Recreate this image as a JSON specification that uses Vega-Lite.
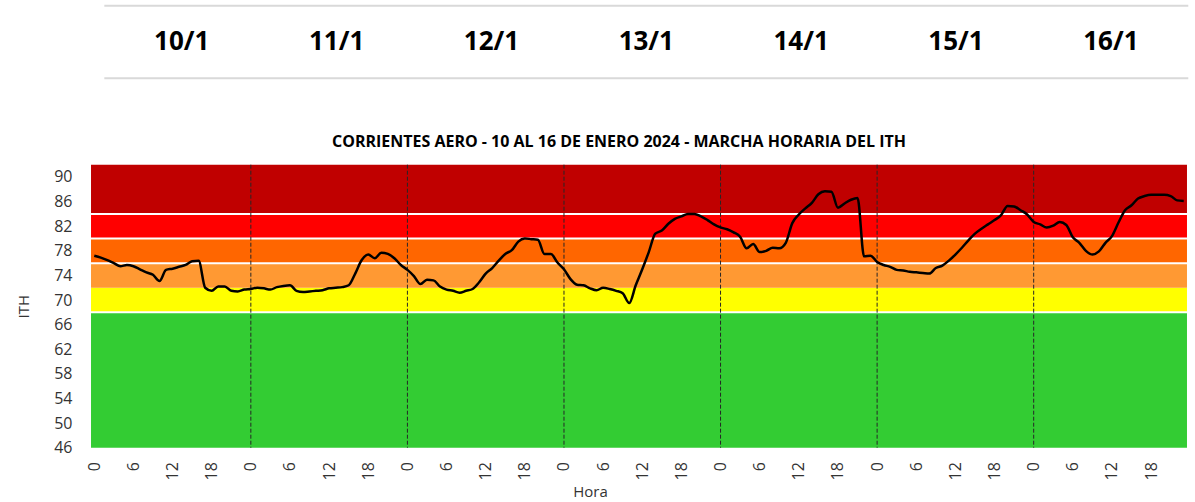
{
  "$schema": "https://vega.github.io/schema/vega-lite/v6.json",
  "background": "white",
  "padding": {"left": 16, "top": 4.7, "right": 0, "bottom": 0},
  "bounds": "flush",
  "spacing": 86,
  "config": {"view": {"stroke": null}, "font": "Open Sans", "axis": {"labelOverlap": false, "labelFlush": false}, "axisY": {"labelOverlap": false}},
  "datasets": {
    "headerLines": [{"pos": "top"}, {"pos": "bottom"}],
    "dates": [{"date": "10/1"}, {"date": "11/1"}, {"date": "12/1"}, {"date": "13/1"}, {"date": "14/1"}, {"date": "15/1"}, {"date": "16/1"}],
    "bands": [
      {"band": "verde", "lo": 46, "hi": 68},
      {"band": "amarillo", "lo": 68, "hi": 72},
      {"band": "naranja claro", "lo": 72, "hi": 76},
      {"band": "naranja", "lo": 76, "hi": 80},
      {"band": "rojo", "lo": 80, "hi": 84},
      {"band": "rojo oscuro", "lo": 84, "hi": 92}
    ],
    "whiteLines": [{"b": 68}, {"b": 76}, {"b": 80}, {"b": 84}],
    "days": [{"d": 24}, {"d": 48}, {"d": 72}, {"d": 96}, {"d": 120}, {"d": 144}],
    "ith": [
      {"h": 0, "ith": 77.2}, {"h": 1, "ith": 76.9}, {"h": 2, "ith": 76.5}, {"h": 3, "ith": 76.0}, {"h": 4, "ith": 75.5}, {"h": 5, "ith": 75.7}, {"h": 6, "ith": 75.5}, {"h": 7, "ith": 75.0}, {"h": 8, "ith": 74.5}, {"h": 9, "ith": 74.1}, {"h": 10, "ith": 73.1}, {"h": 11, "ith": 74.9}, {"h": 12, "ith": 75.1}, {"h": 13, "ith": 75.4}, {"h": 14, "ith": 75.7}, {"h": 15, "ith": 76.3}, {"h": 16, "ith": 76.4}, {"h": 17, "ith": 72.0}, {"h": 18, "ith": 71.5}, {"h": 19, "ith": 72.2}, {"h": 20, "ith": 72.2}, {"h": 21, "ith": 71.5}, {"h": 22, "ith": 71.4}, {"h": 23, "ith": 71.7},
      {"h": 24, "ith": 71.8}, {"h": 25, "ith": 72.0}, {"h": 26, "ith": 71.9}, {"h": 27, "ith": 71.7}, {"h": 28, "ith": 72.1}, {"h": 29, "ith": 72.3}, {"h": 30, "ith": 72.4}, {"h": 31, "ith": 71.5}, {"h": 32, "ith": 71.3}, {"h": 33, "ith": 71.4}, {"h": 34, "ith": 71.5}, {"h": 35, "ith": 71.6}, {"h": 36, "ith": 71.9}, {"h": 37, "ith": 72.0}, {"h": 38, "ith": 72.1}, {"h": 39, "ith": 72.4}, {"h": 40, "ith": 74.3}, {"h": 41, "ith": 76.5}, {"h": 42, "ith": 77.4}, {"h": 43, "ith": 76.8}, {"h": 44, "ith": 77.7}, {"h": 45, "ith": 77.5}, {"h": 46, "ith": 76.8}, {"h": 47, "ith": 75.7},
      {"h": 48, "ith": 74.9}, {"h": 49, "ith": 73.9}, {"h": 50, "ith": 72.6}, {"h": 51, "ith": 73.3}, {"h": 52, "ith": 73.2}, {"h": 53, "ith": 72.2}, {"h": 54, "ith": 71.7}, {"h": 55, "ith": 71.5}, {"h": 56, "ith": 71.2}, {"h": 57, "ith": 71.5}, {"h": 58, "ith": 71.8}, {"h": 59, "ith": 72.9}, {"h": 60, "ith": 74.3}, {"h": 61, "ith": 75.2}, {"h": 62, "ith": 76.4}, {"h": 63, "ith": 77.5}, {"h": 64, "ith": 78.1}, {"h": 65, "ith": 79.5}, {"h": 66, "ith": 80.0}, {"h": 67, "ith": 79.9}, {"h": 68, "ith": 79.8}, {"h": 69, "ith": 77.5}, {"h": 70, "ith": 77.5}, {"h": 71, "ith": 76.1},
      {"h": 72, "ith": 75.0}, {"h": 73, "ith": 73.4}, {"h": 74, "ith": 72.5}, {"h": 75, "ith": 72.4}, {"h": 76, "ith": 71.9}, {"h": 77, "ith": 71.6}, {"h": 78, "ith": 72.0}, {"h": 79, "ith": 71.8}, {"h": 80, "ith": 71.5}, {"h": 81, "ith": 71.1}, {"h": 82, "ith": 69.5}, {"h": 83, "ith": 72.4}, {"h": 84, "ith": 75.0}, {"h": 85, "ith": 77.8}, {"h": 86, "ith": 80.8}, {"h": 87, "ith": 81.3}, {"h": 88, "ith": 82.4}, {"h": 89, "ith": 83.2}, {"h": 90, "ith": 83.6}, {"h": 91, "ith": 84.0}, {"h": 92, "ith": 84.0}, {"h": 93, "ith": 83.6}, {"h": 94, "ith": 83.0}, {"h": 95, "ith": 82.3},
      {"h": 96, "ith": 81.8}, {"h": 97, "ith": 81.5}, {"h": 98, "ith": 81.0}, {"h": 99, "ith": 80.3}, {"h": 100, "ith": 78.4}, {"h": 101, "ith": 79.1}, {"h": 102, "ith": 77.8}, {"h": 103, "ith": 78.0}, {"h": 104, "ith": 78.5}, {"h": 105, "ith": 78.4}, {"h": 106, "ith": 79.3}, {"h": 107, "ith": 82.5}, {"h": 108, "ith": 83.9}, {"h": 109, "ith": 84.9}, {"h": 110, "ith": 85.8}, {"h": 111, "ith": 87.2}, {"h": 112, "ith": 87.7}, {"h": 113, "ith": 87.6}, {"h": 114, "ith": 85.0}, {"h": 115, "ith": 85.7}, {"h": 116, "ith": 86.3}, {"h": 117, "ith": 86.6}, {"h": 118, "ith": 77.1}, {"h": 119, "ith": 77.2},
      {"h": 120, "ith": 76.2}, {"h": 121, "ith": 75.7}, {"h": 122, "ith": 75.4}, {"h": 123, "ith": 74.9}, {"h": 124, "ith": 74.8}, {"h": 125, "ith": 74.6}, {"h": 126, "ith": 74.5}, {"h": 127, "ith": 74.4}, {"h": 128, "ith": 74.3}, {"h": 129, "ith": 75.2}, {"h": 130, "ith": 75.6}, {"h": 131, "ith": 76.4}, {"h": 132, "ith": 77.4}, {"h": 133, "ith": 78.5}, {"h": 134, "ith": 79.7}, {"h": 135, "ith": 80.8}, {"h": 136, "ith": 81.6}, {"h": 137, "ith": 82.3}, {"h": 138, "ith": 83.0}, {"h": 139, "ith": 83.8}, {"h": 140, "ith": 85.3}, {"h": 141, "ith": 85.2}, {"h": 142, "ith": 84.6}, {"h": 143, "ith": 83.9},
      {"h": 144, "ith": 82.7}, {"h": 145, "ith": 82.3}, {"h": 146, "ith": 81.8}, {"h": 147, "ith": 82.1}, {"h": 148, "ith": 82.7}, {"h": 149, "ith": 82.2}, {"h": 150, "ith": 80.2}, {"h": 151, "ith": 79.3}, {"h": 152, "ith": 78.0}, {"h": 153, "ith": 77.4}, {"h": 154, "ith": 77.9}, {"h": 155, "ith": 79.3}, {"h": 156, "ith": 80.4}, {"h": 157, "ith": 82.6}, {"h": 158, "ith": 84.6}, {"h": 159, "ith": 85.4}, {"h": 160, "ith": 86.5}, {"h": 161, "ith": 86.9}, {"h": 162, "ith": 87.1}, {"h": 163, "ith": 87.1}, {"h": 164, "ith": 87.1}, {"h": 165, "ith": 86.9}, {"h": 166, "ith": 86.2}, {"h": 167, "ith": 86.1}
    ]
  },
  "vconcat": [
    {
      "width": 1096,
      "height": 72.6,
      "layer": [
        {
          "data": {"name": "headerLines"},
          "mark": {"type": "rule", "color": "#D9D9D9", "strokeWidth": 2},
          "encoding": {
            "x": {"datum": 0, "type": "quantitative", "scale": {"domain": [0, 7], "range": [13.3, 1097.3]}, "axis": null},
            "x2": {"datum": 7},
            "y": {"field": "pos", "type": "nominal", "scale": {"type": "point", "padding": 0, "domain": ["top", "bottom"]}, "axis": null}
          }
        },
        {
          "data": {"name": "dates"},
          "mark": {"type": "text", "fontSize": 26, "fontWeight": "bold", "color": "#000000", "font": "Open Sans"},
          "encoding": {
            "x": {"field": "date", "type": "ordinal", "sort": null, "scale": {"range": [13.3, 1097.3], "paddingInner": 0, "paddingOuter": 0}, "axis": null},
            "text": {"field": "date"}
          }
        }
      ],
      "resolve": {"scale": {"x": "independent"}}
    },
    {
      "width": 1096,
      "height": 283,
      "title": {"text": "CORRIENTES AERO - 10 AL 16 DE ENERO 2024 - MARCHA HORARIA DEL ITH", "fontSize": 16, "fontWeight": "bold", "color": "#000000", "font": "Open Sans", "offset": 14, "dx": -20},
      "layer": [
        {
          "data": {"name": "bands"},
          "mark": {"type": "rect"},
          "encoding": {
            "x": {"datum": -0.5, "type": "quantitative", "title": "Hora",
              "scale": {"domain": [-0.5, 167.5], "nice": false, "zero": false},
              "axis": {"values": [0, 6, 12, 18, 24, 30, 36, 42, 48, 54, 60, 66, 72, 78, 84, 90, 96, 102, 108, 114, 120, 126, 132, 138, 144, 150, 156, 162],
                "labelExpr": "'' + (datum.value % 24)", "labelAngle": 270, "ticks": false, "domain": false, "grid": false,
                "labelPadding": 14, "labelFontSize": 16, "labelColor": "#333333", "labelOverlap": false, "labelFlush": false,
                "titleFontSize": 15, "titleFontWeight": "normal", "titleColor": "#333333", "titlePadding": 5, "titleX": 499}},
            "x2": {"datum": 167.5},
            "y": {"field": "lo", "type": "quantitative", "title": "ITH",
              "scale": {"domain": [46, 92], "nice": false, "zero": false},
              "axis": {"values": [46, 50, 54, 58, 62, 66, 70, 74, 78, 82, 86, 90], "ticks": false, "domain": false, "grid": false,
                "labelPadding": 19, "labelFontSize": 16, "labelColor": "#333333", "labelOverlap": false, "labelFlush": false,
                "titleFontSize": 15, "titleFontWeight": "normal", "titleColor": "#333333", "titlePadding": 22}},
            "y2": {"field": "hi"},
            "color": {"field": "band", "type": "nominal", "legend": null,
              "scale": {"domain": ["verde", "amarillo", "naranja claro", "naranja", "rojo", "rojo oscuro"],
                "range": ["#33CC33", "#FFFF00", "#FF9933", "#FF6600", "#FF0000", "#C00000"]}}
          }
        },
        {
          "data": {"name": "whiteLines"},
          "mark": {"type": "rule", "color": "#FFFFFF", "strokeWidth": 2},
          "encoding": {"y": {"field": "b", "type": "quantitative", "title": "ITH",
            "axis": {"values": [46, 50, 54, 58, 62, 66, 70, 74, 78, 82, 86, 90], "labelOverlap": false}}}
        },
        {
          "data": {"name": "days"},
          "mark": {"type": "rule", "color": "#262626", "strokeWidth": 1, "strokeDash": [4, 2]},
          "encoding": {"x": {"field": "d", "type": "quantitative", "title": "Hora"}}
        },
        {
          "data": {"name": "ith"},
          "mark": {"type": "line", "color": "#000000", "strokeWidth": 2.5, "interpolate": "monotone"},
          "encoding": {
            "x": {"field": "h", "type": "quantitative", "title": "Hora"},
            "y": {"field": "ith", "type": "quantitative", "title": "ITH",
              "axis": {"values": [46, 50, 54, 58, 62, 66, 70, 74, 78, 82, 86, 90], "labelOverlap": false}}
          }
        }
      ]
    }
  ]
}
